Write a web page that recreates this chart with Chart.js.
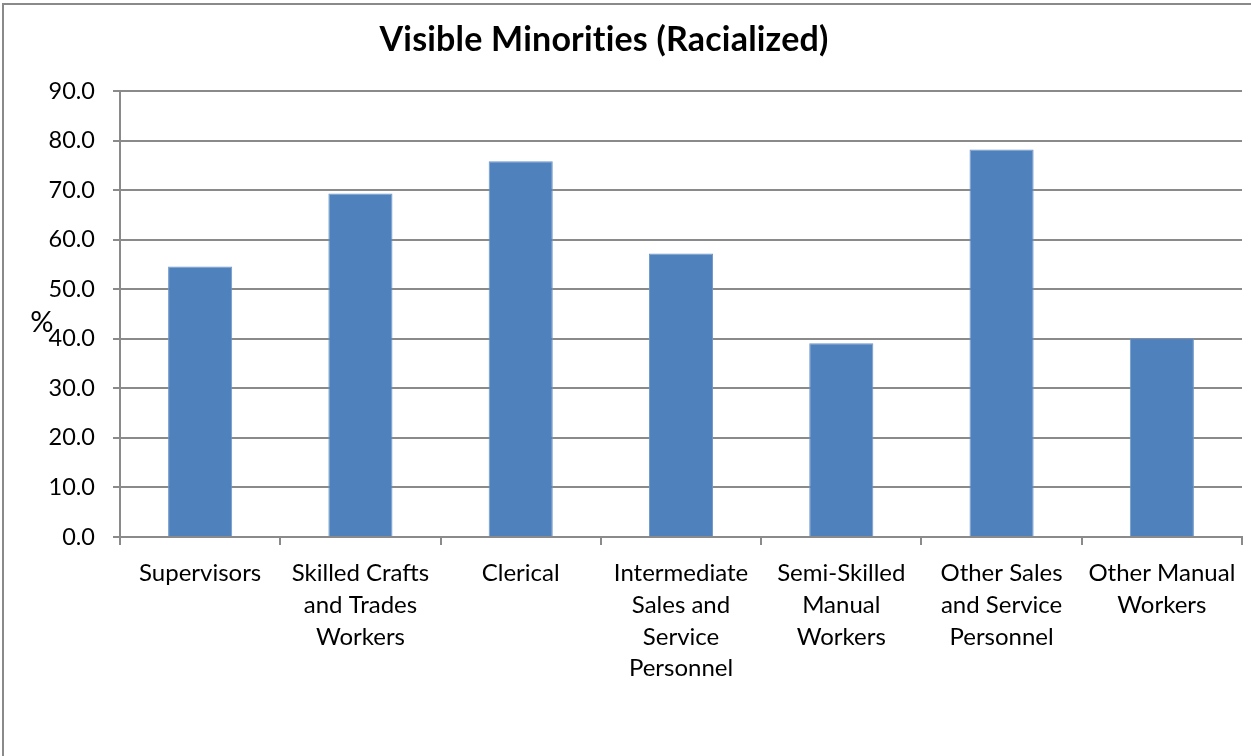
<!DOCTYPE html>
<html>
<head>
<meta charset="utf-8">
<script src="https://cdn.jsdelivr.net/npm/chart.js@4.4.1/dist/chart.umd.min.js"></script>
<style>
  html, body { margin: 0; padding: 0; background: #fff; overflow: hidden; }
  #wrap { position: relative; width: 1251px; height: 756px; }
</style>
</head>
<body>
<div id="wrap"><canvas id="grafico" width="1251" height="756"></canvas></div>
<script>
// Dados
const categorias = [
    'Supervisors',
    ['Skilled Crafts', 'and Trades', 'Workers'],
    'Clerical',
    ['Intermediate', 'Sales and', 'Service', 'Personnel'],
    ['Semi-Skilled', 'Manual', 'Workers'],
    ['Other Sales', 'and Service', 'Personnel'],
    ['Other Manual', 'Workers']
];
const valores = [54.6, 69.3, 75.8, 57.2, 39.1, 78.2, 40.1];
const tituloTexto = 'Visible Minorities (Racialized)';
const eixoYTexto = '%';

const FONTE = 'Lato, "Open Sans", sans-serif';
const CINZA = '#8a8a8a';

// Plugin simples: moldura, título e o "%" do eixo
const extras = {
    id: 'extras',
    beforeDraw(chart) {
        const ctx = chart.ctx;
        ctx.save();
        ctx.fillStyle = '#fff';
        ctx.fillRect(0, 0, chart.width, chart.height);
        ctx.strokeStyle = CINZA;
        ctx.lineWidth = 2;
        ctx.beginPath();
        ctx.moveTo(3, chart.height);
        ctx.lineTo(3, 4);
        ctx.lineTo(chart.width, 4);
        ctx.stroke();
        ctx.restore();
    },
    afterDraw(chart) {
        const ctx = chart.ctx;
        ctx.save();
        ctx.fillStyle = '#000';
        ctx.textAlign = 'center';
        ctx.textBaseline = 'middle';
        if ('letterSpacing' in ctx) ctx.letterSpacing = '0.2px'; // evita a ligadura "ti"
        ctx.font = 'bold 34px ' + FONTE;
        ctx.fillText(tituloTexto, 604, 40);
        ctx.font = '29px ' + FONTE;
        ctx.fillText(eixoYTexto, 42, 323);
        ctx.restore();
    }
};

new Chart(document.getElementById('grafico'), {
    type: 'bar',
    data: {
        labels: categorias,
        datasets: [{
            data: valores,
            backgroundColor: '#4f81bd',
            borderColor: '#6f97c8',
            borderWidth: 1,
            categoryPercentage: 0.4,
            barPercentage: 1.0
        }]
    },
    options: {
        responsive: false,
        animation: false,
        layout: { padding: { top: 91, right: 9, left: 0, bottom: 0 } },
        plugins: {
            legend: { display: false },
            title: { display: false },
            tooltip: { enabled: false }
        },
        scales: {
            x: {
                afterFit: (s) => { s.height = 219; },
                grid: {
                    offset: true,
                    drawOnChartArea: false,
                    tickLength: 8,
                    color: CINZA,
                    lineWidth: 2
                },
                border: { color: CINZA, width: 2 },
                ticks: {
                    color: '#000',
                    maxRotation: 0,
                    autoSkip: false,
                    padding: 12,
                    font: { family: FONTE, size: 24, lineHeight: 1.33 }
                }
            },
            y: {
                min: 0,
                max: 90,
                afterFit: (s) => { s.width = 120; },
                grid: {
                    color: CINZA,
                    lineWidth: 2,
                    tickLength: 7
                },
                border: { color: CINZA, width: 2 },
                ticks: {
                    stepSize: 10,
                    color: '#000',
                    padding: 18,
                    font: { family: FONTE, size: 23.5 },
                    callback: (v) => v.toFixed(1)
                }
            }
        }
    },
    plugins: [extras]
});
</script>
</body>
</html>
